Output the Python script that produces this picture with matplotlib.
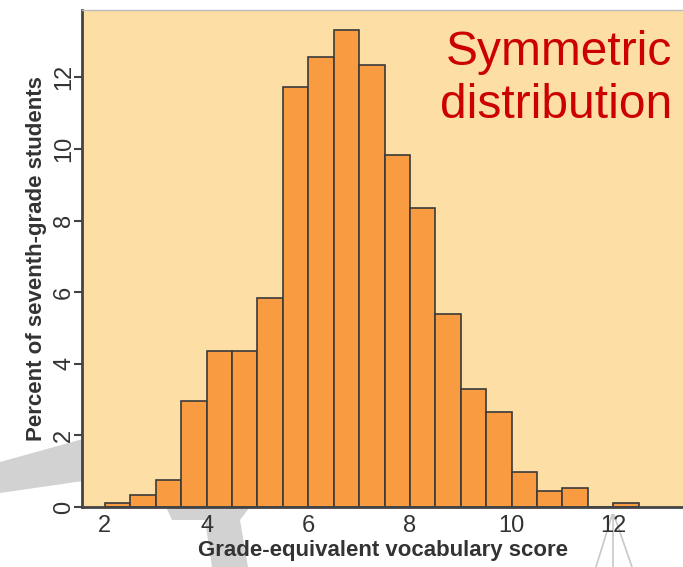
import numpy as np
import matplotlib.pyplot as plt
from matplotlib.patches import Polygon
from matplotlib.lines import Line2D

# bin edges (left) and percent of students in each half-grade bin
bin_left = [2.0, 2.5, 3.0, 3.5, 4.0, 4.5, 5.0, 5.5, 6.0, 6.5, 7.0,
            7.5, 8.0, 8.5, 9.0, 9.5, 10.0, 10.5, 11.0, 11.5, 12.0]
percent = [0.1, 0.33, 0.75, 2.96, 4.35, 4.35, 5.84, 11.73, 12.57, 13.32, 12.35,
           9.83, 8.35, 5.39, 3.30, 2.65, 0.97, 0.45, 0.53, 0.0, 0.1]
bin_width = 0.5

x_ticks = [2, 4, 6, 8, 10, 12]
y_ticks = [0, 2, 4, 6, 8, 10, 12]

narrow = ['Liberation Sans Narrow', 'Liberation Sans', 'DejaVu Sans']

fig = plt.figure(figsize=(6.83, 5.67), dpi=100)

# grey slide decorations behind the chart (figure pixel coords -> fraction)
W, H = 683.0, 567.0
def fp(pts):
    return [(x / W, 1 - y / H) for x, y in pts]

grey = '#d2d2d2'
fig.patches.append(Polygon(fp([(0, 462), (90, 437), (90, 480), (0, 493)]),
                           closed=True, transform=fig.transFigure,
                           facecolor=grey, edgecolor='none', zorder=-5))
fig.patches.append(Polygon(fp([(166, 507), (250, 507), (240, 520), (248, 567),
                               (212, 567), (205, 520), (172, 520)]),
                           closed=True, transform=fig.transFigure,
                           facecolor=grey, edgecolor='none', zorder=-5))
for x0, x1 in [(612, 596), (613, 613), (614, 632)]:
    fig.lines.append(Line2D([x0 / W, x1 / W], [1 - 515 / H, 0], transform=fig.transFigure,
                            color='#c8c8c8', lw=1.2, zorder=-5))

ax = fig.add_axes([82 / W, 60 / H, 1 - 82 / W, (507 - 10) / H])
ax.set_zorder(1)
ax.set_facecolor('#fddfa6')

ax.bar(bin_left, percent, width=bin_width, align='edge',
       color='#f99b40', edgecolor='#3a3a3a', linewidth=1.2, zorder=2)

ax.set_xlim(1.55, 13.37)
ax.set_ylim(0, 13.88)
ax.set_xticks(x_ticks)
ax.set_yticks(y_ticks)

for lbl in ax.get_xticklabels():
    lbl.set_family(narrow)
for lbl in ax.get_yticklabels():
    lbl.set_family(narrow)
    lbl.set_rotation(90)
    lbl.set_va('center')

ax.tick_params(axis='x', length=0, pad=6, labelsize=17, labelcolor='#333333')
ax.tick_params(axis='y', length=6, width=1.5, color='#444444', pad=-1,
               labelsize=17, labelcolor='#333333')

ax.spines['left'].set_color('#444444')
ax.spines['left'].set_linewidth(2)
ax.spines['bottom'].set_color('#444444')
ax.spines['bottom'].set_linewidth(2)
ax.spines['top'].set_color('#bbbbbb')
ax.spines['top'].set_linewidth(1)
ax.spines['right'].set_visible(False)

ax.set_xlabel('Grade-equivalent vocabulary score', family=narrow, fontweight='bold',
              fontsize=16, color='#333333', labelpad=2)
ax.set_ylabel('Percent of seventh-grade students', family=narrow, fontweight='bold',
              fontsize=16, color='#333333', labelpad=4)

fig.text(672 / W, 1 - 30 / H, 'Symmetric\ndistribution', ha='right', va='top',
         family=['Liberation Sans', 'DejaVu Sans'], fontsize=34.5, color='#cc0000',
         linespacing=1.24)

fig.savefig('out.png', dpi=100)
